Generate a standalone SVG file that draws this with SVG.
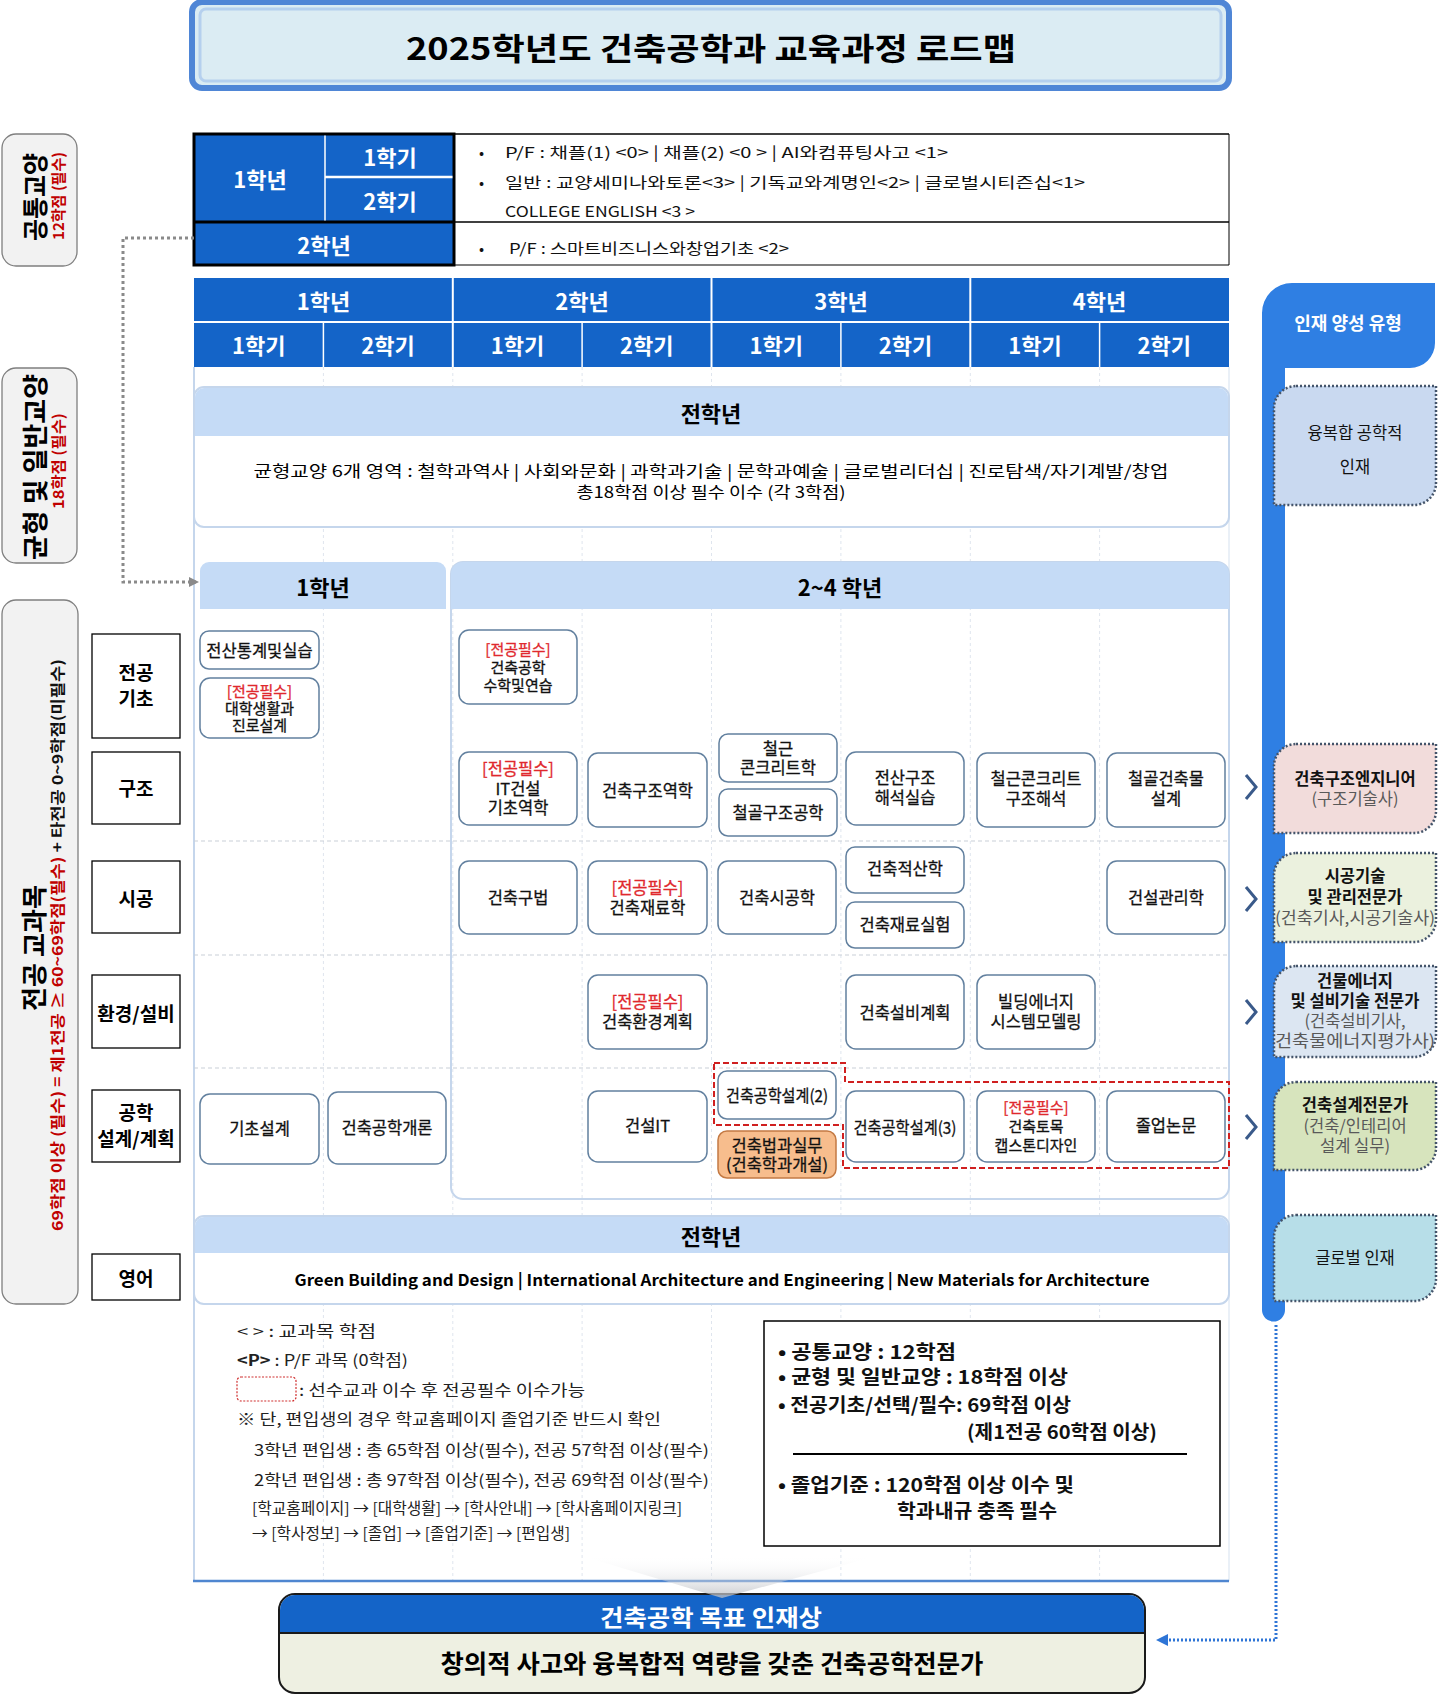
<svg xmlns="http://www.w3.org/2000/svg" width="1442" height="1695" viewBox="0 0 1442 1695">
<style>
text{font-family:"Noto Sans CJK KR","Noto Sans",sans-serif;dominant-baseline:central;}
.c{text-anchor:middle;}
.b{font-weight:bold;}
.wh{fill:#ffffff;}
.course rect{fill:#ffffff;stroke:#62809f;stroke-width:1.5;}
.course text{font-size:16.5px;text-anchor:middle;fill:#111;stroke:#111;stroke-width:0.3;}
.course .req{fill:#e0282d;stroke:#e0282d;}
.course .s3{font-size:15px;}
.cat rect{fill:#ffffff;stroke:#000;stroke-width:1.3;}
.cat text{font-size:19px;font-weight:bold;text-anchor:middle;}
.side path{stroke:#44546a;stroke-width:2.5;stroke-dasharray:2 2;}
.side text{font-size:16.5px;text-anchor:middle;fill:#111;}
.side .sub{fill:#595959;font-weight:normal;}
.ph{fill:#c5dbf6;}
.pbody{fill:#ffffff;stroke:#c5d6ec;stroke-width:2;}
.vgrid{stroke:#dfe5ee;stroke-width:1;stroke-dasharray:3 3;}
.hgrid{stroke:#c9cfd8;stroke-width:1.2;stroke-dasharray:4 3;}
.chev{fill:none;stroke:#3a5a8a;stroke-width:3;}
.lg{font-size:15.5px;fill:#222;}
.sm{font-size:19px;font-weight:bold;fill:#111;}
.tbl{font-size:15px;fill:#111;}
</style>
<defs>
<marker id="arrGray" markerWidth="10" markerHeight="10" refX="7" refY="5" orient="auto" markerUnits="userSpaceOnUse"><path d="M0,0 L10,5 L0,10 Z" fill="#8a8a8a"/></marker>
<marker id="arrBlue" markerWidth="12" markerHeight="12" refX="8" refY="6" orient="auto" markerUnits="userSpaceOnUse"><path d="M0,0 L12,6 L0,12 Z" fill="#2e75d6"/></marker>
<linearGradient id="fade" x1="0" y1="0" x2="0" y2="1"><stop offset="0" stop-color="#ffffff" stop-opacity="0"/><stop offset="1" stop-color="#b9bcc2" stop-opacity="0.8"/></linearGradient>
</defs>

<!-- Title -->
<g id="title">
<rect x="192" y="2" width="1037" height="86" rx="10" fill="#dbecf3" stroke="#4f86d6" stroke-width="6"/>
<rect x="200" y="9" width="1021" height="72" rx="6" fill="none" stroke="#b5d0ee" stroke-width="3"/>
<text x="711" y="46" class="c b" font-size="31" textLength="610" lengthAdjust="spacingAndGlyphs">2025학년도 건축공학과 교육과정 로드맵</text>
</g>

<!-- Left side labels -->
<g id="lab-common">
<rect x="2" y="134" width="75" height="132" rx="14" fill="#f2f2f2" stroke="#7f7f7f" stroke-width="1.3"/>
<text transform="translate(33,197) rotate(-90)" class="c b" font-size="26" textLength="88" lengthAdjust="spacingAndGlyphs">공통교양</text>
<text transform="translate(57,196) rotate(-90)" class="c b" font-size="15" fill="#c00000" textLength="88" lengthAdjust="spacingAndGlyphs">12학점 (필수)</text>
</g>
<g id="lab-general">
<rect x="2" y="368" width="75" height="195" rx="14" fill="#f2f2f2" stroke="#7f7f7f" stroke-width="1.3"/>
<text transform="translate(33,467) rotate(-90)" class="c b" font-size="26" textLength="186" lengthAdjust="spacingAndGlyphs">균형 및 일반교양</text>
<text transform="translate(57,461) rotate(-90)" class="c b" font-size="15" fill="#c00000" textLength="96" lengthAdjust="spacingAndGlyphs">18학점 (필수)</text>
</g>
<g id="lab-major">
<rect x="2" y="600" width="76" height="704" rx="14" fill="#f2f2f2" stroke="#7f7f7f" stroke-width="1.3"/>
<text transform="translate(32,948) rotate(-90)" class="c b" font-size="26" textLength="126" lengthAdjust="spacingAndGlyphs">전공 교과목</text>
<text transform="translate(56,945) rotate(-90)" class="c b" font-size="15" textLength="572" lengthAdjust="spacingAndGlyphs"><tspan fill="#c00000">69학점 이상 (필수) = 제1전공 ≥ 60~69학점(필수)</tspan><tspan fill="#111"> + 타전공 0~9학점(미필수)</tspan></text>
</g>

<!-- Category boxes -->
<g id="cat-basic" class="cat"><rect x="92" y="634" width="88" height="104"/><text x="136" y="671">전공<tspan x="136" dy="26">기초</tspan></text></g>
<g id="cat-struct" class="cat"><rect x="92" y="752" width="88" height="72"/><text x="136" y="787">구조</text></g>
<g id="cat-const" class="cat"><rect x="92" y="861" width="88" height="72"/><text x="136" y="897">시공</text></g>
<g id="cat-env" class="cat"><rect x="92" y="975" width="88" height="73"/><text x="136" y="1012">환경/설비</text></g>
<g id="cat-design" class="cat"><rect x="92" y="1090" width="88" height="72"/><text x="136" y="1111">공학<tspan x="136" dy="26">설계/계획</tspan></text></g>
<g id="cat-eng" class="cat"><rect x="92" y="1254" width="88" height="46"/><text x="136" y="1277">영어</text></g>

<!-- Top table -->
<g id="gen-table">
<rect x="454" y="134" width="775" height="131" fill="#ffffff"/>
<line x1="454" y1="134" x2="1229" y2="134" stroke="#000" stroke-width="1.5"/>
<line x1="454" y1="222" x2="1229" y2="222" stroke="#000" stroke-width="1.5"/>
<line x1="454" y1="265" x2="1229" y2="265" stroke="#808080" stroke-width="2"/>
<line x1="1229" y1="134" x2="1229" y2="265" stroke="#000" stroke-width="1"/>
<rect x="194" y="134" width="260" height="131" fill="#1464c8" stroke="#000" stroke-width="3"/>
<line x1="194" y1="222" x2="454" y2="222" stroke="#000" stroke-width="3"/>
<line x1="325" y1="135.5" x2="325" y2="220.5" stroke="#ffffff" stroke-width="1.5"/>
<line x1="325" y1="177" x2="452.5" y2="177" stroke="#ffffff" stroke-width="2.5"/>
<text x="260" y="178" class="c b wh" font-size="22">1학년</text>
<text x="390" y="156" class="c b wh" font-size="22">1학기</text>
<text x="390" y="200" class="c b wh" font-size="22">2학기</text>
<text x="324" y="244" class="c b wh" font-size="22">2학년</text>
<text x="479" y="151" class="tbl">•</text>
<text x="505" y="151" class="tbl" textLength="443" lengthAdjust="spacingAndGlyphs">P/F : 채플(1) &lt;0&gt;  |  채플(2) &lt;0 &gt;  | AI와컴퓨팅사고 &lt;1&gt;</text>
<text x="479" y="181" class="tbl">•</text>
<text x="505" y="181" class="tbl" textLength="580" lengthAdjust="spacingAndGlyphs">일반 : 교양세미나와토론&lt;3&gt;  |  기독교와계명인&lt;2&gt;  |   글로벌시티즌십&lt;1&gt;</text>
<text x="505" y="210" class="tbl" textLength="190" lengthAdjust="spacingAndGlyphs">COLLEGE ENGLISH &lt;3 &gt;</text>
<text x="479" y="247" class="tbl">•</text>
<text x="509" y="247" class="tbl" textLength="280" lengthAdjust="spacingAndGlyphs">P/F : 스마트비즈니스와창업기초 &lt;2&gt;</text>
</g>

<!-- Grid background -->
<g id="grid">
<line class="vgrid" x1="323.4" y1="367" x2="323.4" y2="1580"/>
<line class="vgrid" x1="452.8" y1="367" x2="452.8" y2="1580"/>
<line class="vgrid" x1="582.1" y1="367" x2="582.1" y2="1580"/>
<line class="vgrid" x1="711.5" y1="367" x2="711.5" y2="1580"/>
<line class="vgrid" x1="840.9" y1="367" x2="840.9" y2="1580"/>
<line class="vgrid" x1="970.3" y1="367" x2="970.3" y2="1580"/>
<line class="vgrid" x1="1099.6" y1="367" x2="1099.6" y2="1580"/>
<line x1="194" y1="367" x2="194" y2="1581" stroke="#c5d6ec" stroke-width="2"/>
<line x1="1229" y1="367" x2="1229" y2="1581" stroke="#e3ebf5" stroke-width="1.5"/>
<line class="hgrid" x1="194" y1="841" x2="1229" y2="841"/>
<line class="hgrid" x1="194" y1="955" x2="1229" y2="955"/>
<line class="hgrid" x1="194" y1="1068" x2="1229" y2="1068"/>
<line x1="193" y1="1581" x2="1229" y2="1581" stroke="#4f86d0" stroke-width="2.5"/>
</g>

<!-- Grid header -->
<g id="grid-header">
<rect x="194" y="278" width="1035" height="89" fill="#1464c8"/>
<line x1="194" y1="322" x2="1229" y2="322" stroke="#ffffff" stroke-width="2"/>
<g stroke="#ffffff" stroke-width="2"><line x1="452.8" y1="278" x2="452.8" y2="367"/><line x1="711.5" y1="278" x2="711.5" y2="367"/><line x1="970.3" y1="278" x2="970.3" y2="367"/></g>
<g stroke="#ffffff" stroke-width="1.5"><line x1="323.4" y1="322" x2="323.4" y2="367"/><line x1="582.1" y1="322" x2="582.1" y2="367"/><line x1="840.9" y1="322" x2="840.9" y2="367"/><line x1="1099.6" y1="322" x2="1099.6" y2="367"/></g>
<g class="c b wh" font-size="22">
<text x="323.4" y="300">1학년</text><text x="582.1" y="300">2학년</text><text x="840.9" y="300">3학년</text><text x="1099.6" y="300">4학년</text>
<text x="258.7" y="344">1학기</text><text x="388.1" y="344">2학기</text><text x="517.5" y="344">1학기</text><text x="646.8" y="344">2학기</text>
<text x="776.2" y="344">1학기</text><text x="905.6" y="344">2학기</text><text x="1035" y="344">1학기</text><text x="1164.3" y="344">2학기</text>
</g>
</g>

<!-- All-year panel 1 -->
<g id="panel-all1">
<rect class="pbody" x="194" y="387" width="1035" height="140" rx="10"/>
<path class="ph" d="M195,436 V397 A9,9 0 0 1 204,388 H1219 A9,9 0 0 1 1228,397 V436 Z"/>
<text x="711" y="412" class="c b" font-size="22">전학년</text>
<text x="711" y="470" class="c" font-size="16" textLength="915" lengthAdjust="spacingAndGlyphs">균형교양 6개 영역 : 철학과역사  |  사회와문화  |  과학과기술  |  문학과예술  |  글로벌리더십  |  진로탐색/자기계발/창업</text>
<text x="711" y="491" class="c" font-size="16" textLength="269" lengthAdjust="spacingAndGlyphs">총18학점 이상 필수 이수 (각 3학점)</text>
</g>

<!-- Year panels -->
<g id="panel-y1">
<path class="ph" d="M200,609 V571 A9,9 0 0 1 209,562 H437 A9,9 0 0 1 446,571 V609 Z"/>
<text x="323" y="586" class="c b" font-size="22">1학년</text>
</g>
<g id="panel-y24">
<rect x="451" y="562" width="778" height="637" rx="12" fill="none" stroke="#c5d6ec" stroke-width="2"/>
<path class="ph" d="M451,609 V574 A12,12 0 0 1 463,562 H1217 A12,12 0 0 1 1229,574 V609 Z"/>
<text x="840" y="586" class="c b" font-size="22">2~4 학년</text>
</g>

<!-- Courses -->
<g id="c-jeonsan" class="course"><rect x="200" y="631" width="119" height="38" rx="9"/><text x="259.5" y="650">전산통계및실습</text></g>
<g id="c-daehak" class="course"><rect x="200" y="678" width="119" height="60" rx="10"/><text class="s3" x="259.5" y="690"><tspan class="req">[전공필수]</tspan><tspan x="259.5" dy="17">대학생활과</tspan><tspan x="259.5" dy="17">진로설계</tspan></text></g>
<g id="c-suhak" class="course"><rect x="459" y="630" width="118" height="74" rx="10"/><text class="s3" x="518" y="648"><tspan class="req">[전공필수]</tspan><tspan x="518" dy="18">건축공학</tspan><tspan x="518" dy="18">수학및연습</tspan></text></g>
<g id="c-itgs" class="course"><rect x="459" y="752" width="118" height="73" rx="10"/><text x="518" y="768"><tspan class="req">[전공필수]</tspan><tspan x="518" dy="20">IT건설</tspan><tspan x="518" dy="19">기초역학</tspan></text></g>
<g id="c-gujo" class="course"><rect x="588" y="753" width="119" height="74" rx="10"/><text x="647.5" y="790">건축구조역학</text></g>
<g id="c-rc" class="course"><rect x="719" y="734" width="118" height="48" rx="9"/><text x="778" y="748">철근<tspan x="778" dy="19">콘크리트학</tspan></text></g>
<g id="c-steel" class="course"><rect x="719" y="789" width="118" height="47" rx="9"/><text x="778" y="812">철골구조공학</text></g>
<g id="c-jeonsangujo" class="course"><rect x="846" y="752" width="118" height="73" rx="10"/><text x="905" y="777">전산구조<tspan x="905" dy="20">해석실습</tspan></text></g>
<g id="c-rcanal" class="course"><rect x="977" y="753" width="118" height="74" rx="10"/><text x="1036" y="778">철근콘크리트<tspan x="1036" dy="20">구조해석</tspan></text></g>
<g id="c-steelbldg" class="course"><rect x="1107" y="753" width="118" height="74" rx="10"/><text x="1166" y="778">철골건축물<tspan x="1166" dy="20">설계</tspan></text></g>
<g id="c-gubeop" class="course"><rect x="459" y="861" width="118" height="73" rx="10"/><text x="518" y="897">건축구법</text></g>
<g id="c-jaeryo" class="course"><rect x="588" y="861" width="119" height="73" rx="10"/><text x="647.5" y="887"><tspan class="req">[전공필수]</tspan><tspan x="647.5" dy="20">건축재료학</tspan></text></g>
<g id="c-sigong" class="course"><rect x="718" y="861" width="118" height="73" rx="10"/><text x="777" y="897">건축시공학</text></g>
<g id="c-jeoksan" class="course"><rect x="846" y="847" width="118" height="46" rx="9"/><text x="905" y="868">건축적산학</text></g>
<g id="c-jaeryosil" class="course"><rect x="846" y="902" width="118" height="46" rx="9"/><text x="905" y="924">건축재료실험</text></g>
<g id="c-gwanri" class="course"><rect x="1107" y="861" width="118" height="73" rx="10"/><text x="1166" y="897">건설관리학</text></g>
<g id="c-hwangyeong" class="course"><rect x="588" y="975" width="119" height="74" rx="10"/><text x="647.5" y="1001"><tspan class="req">[전공필수]</tspan><tspan x="647.5" dy="20">건축환경계획</tspan></text></g>
<g id="c-seolbi" class="course"><rect x="846" y="975" width="118" height="74" rx="10"/><text x="905" y="1012">건축설비계획</text></g>
<g id="c-bem" class="course"><rect x="977" y="975" width="118" height="74" rx="10"/><text x="1036" y="1001">빌딩에너지<tspan x="1036" dy="20">시스템모델링</tspan></text></g>
<g id="c-gicho" class="course"><rect x="200" y="1094" width="119" height="70" rx="10"/><text x="259.5" y="1128">기초설계</text></g>
<g id="c-gaeron" class="course"><rect x="328" y="1092" width="118" height="72" rx="10"/><text x="387" y="1127">건축공학개론</text></g>
<g id="c-it" class="course"><rect x="588" y="1091" width="119" height="71" rx="10"/><text x="647.5" y="1125">건설IT</text></g>
<g id="c-design2" class="course"><rect x="718" y="1071" width="118" height="48" rx="9"/><text x="777" y="1095" textLength="102" lengthAdjust="spacingAndGlyphs">건축공학설계(2)</text></g>
<g id="c-law" class="course"><rect x="718" y="1131" width="118" height="47" rx="9" style="fill:#f7bd8d;stroke:#c47a44"/><text x="777" y="1145">건축법과실무<tspan x="777" dy="19">(건축학과개설)</tspan></text></g>
<g id="c-design3" class="course"><rect x="846" y="1091" width="118" height="71" rx="10"/><text x="905" y="1127" textLength="103" lengthAdjust="spacingAndGlyphs">건축공학설계(3)</text></g>
<g id="c-capstone" class="course"><rect x="977" y="1091" width="118" height="71" rx="10"/><text class="s3" x="1036" y="1106"><tspan class="req">[전공필수]</tspan><tspan x="1036" dy="19">건축토목</tspan><tspan x="1036" dy="19">캡스톤디자인</tspan></text></g>
<g id="c-thesis" class="course"><rect x="1107" y="1091" width="118" height="71" rx="10"/><text x="1166" y="1125">졸업논문</text></g>

<!-- Prerequisite outline -->
<g id="prereq">
<path d="M714,1063 H845 V1082 H1229 V1168 H843 V1125 H714 Z" fill="none" stroke="#d02020" stroke-width="2" stroke-dasharray="6 3"/>
</g>

<!-- All-year panel 2 -->
<g id="panel-all2">
<rect class="pbody" x="194" y="1216" width="1035" height="88" rx="10"/>
<path class="ph" d="M195,1253 V1226 A9,9 0 0 1 204,1217 H1219 A9,9 0 0 1 1228,1226 V1253 Z"/>
<text x="711" y="1235" class="c b" font-size="22">전학년</text>
<text x="722" y="1279" class="c b" font-size="16" textLength="855" lengthAdjust="spacingAndGlyphs">Green Building and Design  |  International Architecture and Engineering |  New Materials for Architecture</text>
</g>

<!-- Legend -->
<g id="legend">
<text x="237" y="1330" class="lg" textLength="139" lengthAdjust="spacingAndGlyphs">&lt;  &gt; : 교과목 학점</text>
<text x="237" y="1359" class="lg" textLength="171" lengthAdjust="spacingAndGlyphs"><tspan font-weight="bold">&lt;P&gt;</tspan> : P/F 과목 (0학점)</text>
<rect x="237" y="1377" width="59" height="24" rx="4" fill="none" stroke="#d03030" stroke-width="1.2" stroke-dasharray="2 1.5"/>
<text x="299" y="1389" class="lg" textLength="286" lengthAdjust="spacingAndGlyphs">: 선수교과 이수 후 전공필수 이수가능</text>
<text x="237" y="1418" class="lg" textLength="424" lengthAdjust="spacingAndGlyphs">※ 단, 편입생의 경우 학교홈페이지 졸업기준 반드시 확인</text>
<text x="254" y="1449" class="lg" textLength="455" lengthAdjust="spacingAndGlyphs">3학년 편입생 : 총 65학점 이상(필수), 전공 57학점 이상(필수)</text>
<text x="254" y="1479" class="lg" textLength="455" lengthAdjust="spacingAndGlyphs">2학년 편입생 : 총 97학점 이상(필수), 전공 69학점 이상(필수)</text>
<text x="252" y="1507" class="lg" font-size="14.5" textLength="430" lengthAdjust="spacingAndGlyphs">[학교홈페이지] → [대학생활] → [학사안내] → [학사홈페이지링크]</text>
<text x="252" y="1532" class="lg" font-size="14.5" textLength="318" lengthAdjust="spacingAndGlyphs">→ [학사정보] → [졸업] → [졸업기준] → [편입생]</text>
</g>

<!-- Summary -->
<g id="summary">
<rect x="764" y="1321" width="456" height="225" fill="#ffffff" stroke="#000" stroke-width="1.5"/>
<text class="sm" x="778" y="1350"><tspan textLength="178" lengthAdjust="spacingAndGlyphs">• 공통교양  :  12학점</tspan><tspan x="778" dy="25" textLength="290" lengthAdjust="spacingAndGlyphs">• 균형 및 일반교양  :  18학점 이상</tspan><tspan x="778" dy="28" textLength="293" lengthAdjust="spacingAndGlyphs">• 전공기초/선택/필수: 69학점 이상</tspan><tspan x="967" dy="27" textLength="190" lengthAdjust="spacingAndGlyphs">(제1전공 60학점 이상)</tspan></text>
<line x1="793" y1="1454" x2="1187" y2="1454" stroke="#000" stroke-width="2"/>
<text class="sm" x="778" y="1483"><tspan textLength="296" lengthAdjust="spacingAndGlyphs">• 졸업기준  : 120학점 이상 이수 및</tspan><tspan x="897" dy="26" textLength="160" lengthAdjust="spacingAndGlyphs">학과내규 충족 필수</tspan></text>
</g>

<!-- Sidebar -->
<g id="side-header">
<path d="M1262,313 A30,30 0 0 1 1292,283 H1435 V343 A25,25 0 0 1 1410,368 H1285 V1310 A11.5,11.5 0 0 1 1262,1310 Z" fill="#2f7fe3"/>
<text x="1348" y="322" class="c b wh" font-size="18">인재 양성 유형</text>
</g>
<g id="side-convergence" class="side">
<path d="M1296,386 H1436 V483 A22,22 0 0 1 1414,505 H1274 V408 A22,22 0 0 1 1296,386 Z" fill="#c9d9f0"/>
<text x="1355" y="432" font-size="18">융복합 공학적<tspan x="1355" dy="34">인재</tspan></text>
</g>
<g id="side-struct" class="side">
<path d="M1296,744 H1436 V811 A22,22 0 0 1 1414,833 H1274 V766 A22,22 0 0 1 1296,744 Z" fill="#f2dcdb"/>
<text x="1355" y="778" font-weight="bold">건축구조엔지니어<tspan x="1355" dy="20" class="sub">(구조기술사)</tspan></text>
</g>
<g id="side-const" class="side">
<path d="M1296,853 H1436 V920 A22,22 0 0 1 1414,942 H1274 V875 A22,22 0 0 1 1296,853 Z" fill="#ebf1de"/>
<text x="1355" y="875" font-weight="bold">시공기술<tspan x="1355" dy="21">및 관리전문가</tspan><tspan x="1355" dy="21" class="sub" textLength="160" lengthAdjust="spacingAndGlyphs">(건축기사,시공기술사)</tspan></text>
</g>
<g id="side-energy" class="side">
<path d="M1296,966 H1436 V1035 A22,22 0 0 1 1414,1057 H1274 V988 A22,22 0 0 1 1296,966 Z" fill="#dce6f2"/>
<text x="1355" y="980" font-weight="bold">건물에너지<tspan x="1355" dy="20">및 설비기술 전문가</tspan><tspan x="1355" dy="20" class="sub">(건축설비기사,</tspan><tspan x="1355" dy="20" class="sub" textLength="160" lengthAdjust="spacingAndGlyphs">건축물에너지평가사)</tspan></text>
</g>
<g id="side-design" class="side">
<path d="M1296,1082 H1436 V1148 A22,22 0 0 1 1414,1170 H1274 V1104 A22,22 0 0 1 1296,1082 Z" fill="#d7e4bd"/>
<text x="1355" y="1104" font-weight="bold">건축설계전문가<tspan x="1355" dy="21" class="sub">(건축/인테리어</tspan><tspan x="1355" dy="20" class="sub">설계 실무)</tspan></text>
</g>
<g id="side-global" class="side">
<path d="M1296,1215 H1436 V1279 A22,22 0 0 1 1414,1301 H1274 V1237 A22,22 0 0 1 1296,1215 Z" fill="#b7dee8"/>
<text x="1355" y="1257" font-size="18">글로벌 인재</text>
</g>

<!-- Target -->
<g id="target">
<rect x="279" y="1594" width="866" height="99" rx="16" fill="#eef0e2" stroke="#1a1a1a" stroke-width="2"/>
<path d="M280,1633 V1610 A15,15 0 0 1 295,1595 H1129 A15,15 0 0 1 1144,1610 V1633 Z" fill="#1464c8"/>
<line x1="280" y1="1633" x2="1144" y2="1633" stroke="#1a1a1a" stroke-width="2"/>
<text x="711" y="1616" class="c b wh" font-size="23" textLength="222" lengthAdjust="spacingAndGlyphs">건축공학 목표 인재상</text>
<text x="712" y="1662" class="c b" font-size="25" textLength="543" lengthAdjust="spacingAndGlyphs">창의적 사고와 융복합적 역량을 갖춘 건축공학전문가</text>
</g>

<!-- Connectors -->
<g id="connectors">
<polyline points="194,238 123,238 123,582 196,582" fill="none" stroke="#8a8a8a" stroke-width="3" stroke-dasharray="3 3" marker-end="url(#arrGray)"/>
<polyline points="1276,1325 1276,1640 1160,1640" fill="none" stroke="#2e75d6" stroke-width="3" stroke-dasharray="2 2" marker-end="url(#arrBlue)"/>
<polygon points="582,1556 877,1556 722,1598" fill="url(#fade)"/>
<polyline class="chev" points="1246,775 1256,787 1246,799"/>
<polyline class="chev" points="1246,887 1256,899 1246,911"/>
<polyline class="chev" points="1246,1000 1256,1012 1246,1024"/>
<polyline class="chev" points="1246,1115 1256,1127 1246,1139"/>
</g>
</svg>
